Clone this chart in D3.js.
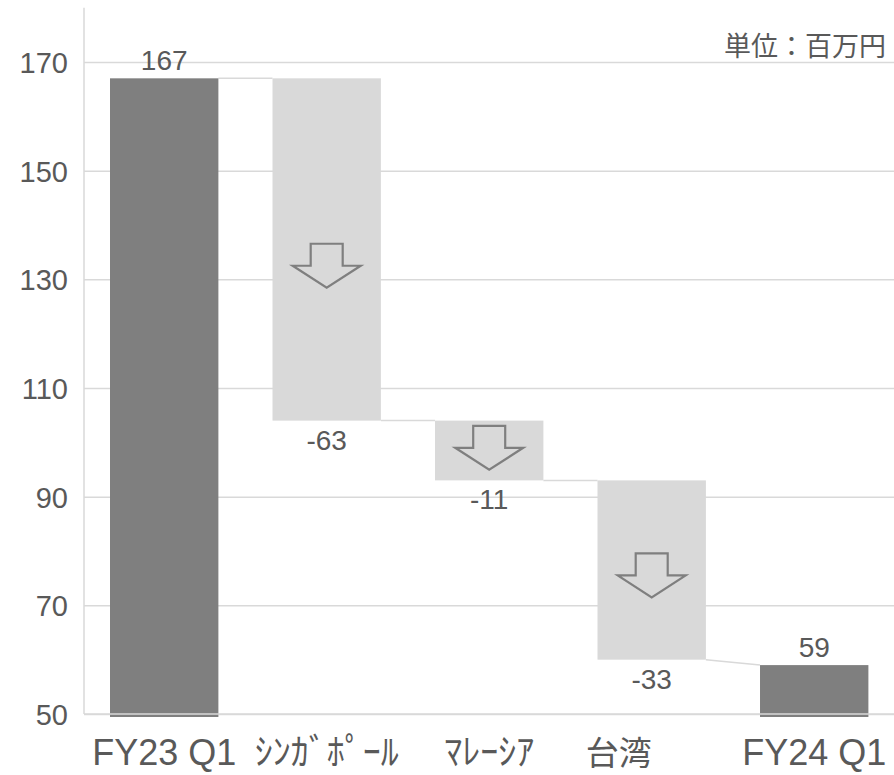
<!DOCTYPE html>
<html>
<head>
<meta charset="utf-8">
<script src="https://cdn.jsdelivr.net/npm/d3@7/dist/d3.min.js"></script>
<style>
  html, body { margin: 0; padding: 0; background: #fff; }
  svg { display: block; }
</style>
</head>
<body>
<svg id="chart" width="894" height="775"></svg>
<script>
// Quarterly bridge: FY23 Q1 -> FY24 Q1, by region (unit: million yen)
const categories = ["FY23 Q1", "ｼﾝｶﾞﾎﾟｰﾙ", "ﾏﾚｰｼｱ", "台湾　　", "FY24 Q1"];
const kinds = ["total", "delta", "delta", "delta", "total"];
const values = [167, -63, -11, -33, 59];
// vertical centre of the down-arrow drawn inside each change bar
const arrowAt = [null, 132.5, 99, 75.5, null];
const yTicks = [50, 70, 90, 110, 130, 150, 170];
const unitLabel = "単位：百万円";

const W = 894, H = 775;
const svg = d3.select("#chart");

const x = d3.scaleBand()
  .domain(categories)
  .range([84, 894.4])
  .paddingInner(0.333)
  .paddingOuter(0.16);

const y = d3.scaleLinear().domain([50, 180]).range([714, 7.7]);

const textColor = "#595959";
const gridColor = "#d9d9d9";
const latinFont = "'Liberation Sans', Arial, sans-serif";
const cjkFont = "'Noto Sans CJK JP', sans-serif";
const fmt = v => String(v);   // plain hyphen for negatives

// build floating segments
let running = 0;
const bars = categories.map((c, i) => {
  let lo, hi, start, end;
  if (kinds[i] === "total") {
    start = y.domain()[0]; end = values[i];
    lo = start; hi = end; running = values[i];
  } else {
    start = running; end = running + values[i];
    lo = Math.min(start, end); hi = Math.max(start, end);
    running = end;
  }
  return { cat: c, kind: kinds[i], value: values[i], start, end, lo, hi, arrow: arrowAt[i] };
});

// horizontal gridlines + tick labels
const yAxis = d3.axisLeft(y).tickValues(yTicks).tickSize(-(W - 84)).tickFormat(fmt).tickPadding(16);
const gAxis = svg.append("g").attr("transform", "translate(84,0)").call(yAxis);
gAxis.select(".domain").remove();
gAxis.selectAll(".tick line").attr("stroke", gridColor).attr("stroke-width", 1.5);
gAxis.selectAll(".tick text")
  .attr("fill", textColor)
  .attr("font-family", latinFont)
  .attr("font-size", 29)
  .attr("dy", "0.36em");

// vertical axis line
svg.append("line")
  .attr("x1", 84).attr("x2", 84)
  .attr("y1", y(180)).attr("y2", y(50))
  .attr("stroke", gridColor).attr("stroke-width", 1.5);

// connectors between consecutive bars
for (let i = 0; i < bars.length - 1; i++) {
  const a = bars[i], b = bars[i + 1];
  const fromV = a.kind === "total" ? a.value : a.end;
  const toV = b.kind === "total" ? b.value : b.start;
  svg.append("line")
    .attr("x1", x(a.cat) + x.bandwidth())
    .attr("x2", x(b.cat))
    .attr("y1", y(fromV))
    .attr("y2", y(toV))
    .attr("stroke", gridColor)
    .attr("stroke-width", 1.5);
}

// bars
svg.append("g").selectAll("rect")
  .data(bars)
  .join("rect")
  .attr("x", d => x(d.cat))
  .attr("width", x.bandwidth())
  .attr("y", d => y(d.hi))
  .attr("height", d => y(d.lo) - y(d.hi) + (d.kind === "total" ? 3 : 0))
  .attr("fill", d => d.kind === "total" ? "#7f7f7f" : "#d9d9d9");

// baseline drawn over the bar feet
svg.append("line")
  .attr("x1", 84).attr("x2", W)
  .attr("y1", y(50)).attr("y2", y(50))
  .attr("stroke", gridColor).attr("stroke-width", 1.5);

// hollow down arrows inside change bars
const aw = 68, ah = 44, sw = 32, sh = 22;
const arrowPath = (cx, cy) => {
  const t = cy - ah / 2;
  return d3.line()([
    [cx - sw / 2, t], [cx + sw / 2, t], [cx + sw / 2, t + sh],
    [cx + aw / 2, t + sh], [cx, t + ah], [cx - aw / 2, t + sh],
    [cx - sw / 2, t + sh]
  ]) + "Z";
};
svg.append("g").selectAll("path")
  .data(bars.filter(d => d.arrow != null))
  .join("path")
  .attr("d", d => arrowPath(x(d.cat) + x.bandwidth() / 2, y(d.arrow)))
  .attr("fill", "none")
  .attr("stroke", "#7f7f7f")
  .attr("stroke-width", 2.2)
  .attr("stroke-linejoin", "miter");

// value labels
svg.append("g").selectAll("text")
  .data(bars)
  .join("text")
  .attr("x", d => x(d.cat) + x.bandwidth() / 2)
  .attr("y", d => d.kind === "total" ? y(d.hi) - 8 : y(d.lo) + 29)
  .attr("text-anchor", "middle")
  .attr("fill", textColor)
  .attr("font-family", latinFont)
  .attr("font-size", 28)
  .text(d => fmt(d.value));

// category labels
const isHalfKana = s => /[\uFF61-\uFF9F]/.test(s);
const isCJK = s => /[\u3001-\u9FFF]/.test(s);
svg.append("g").selectAll("text")
  .data(categories)
  .join("text")
  .attr("x", d => x(d) + x.bandwidth() / 2)
  .attr("y", d => isHalfKana(d) ? 765 : (isCJK(d) ? 765 : 765))
  .attr("text-anchor", "middle")
  .attr("fill", textColor)
  .attr("font-family", d => (isHalfKana(d) || isCJK(d)) ? cjkFont : latinFont)
  .attr("font-size", d => isHalfKana(d) ? 36 : (isCJK(d) ? 33 : 36))
  .text(d => d);

// unit label
svg.append("text")
  .attr("x", 886)
  .attr("y", 56)
  .attr("text-anchor", "end")
  .attr("fill", textColor)
  .attr("font-family", cjkFont)
  .attr("font-size", 27)
  .text(unitLabel);
</script>
</body>
</html>
